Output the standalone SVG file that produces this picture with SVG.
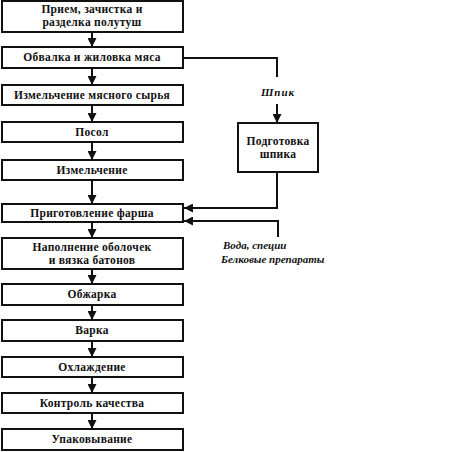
<svg xmlns="http://www.w3.org/2000/svg" width="474" height="452" viewBox="0 0 474 452">
<defs>
<marker id="ah" viewBox="0 0 10 10" refX="10" refY="5" markerWidth="4.5" markerHeight="4.5" orient="auto" markerUnits="strokeWidth">
<path d="M0,0 L10,5 L0,10 z" fill="#111"/>
</marker>
<style>
.box{fill:#fff;stroke:#111;stroke-width:2}
.t{font-family:"Liberation Serif","DejaVu Serif",serif;font-size:11.5px;letter-spacing:0.3px;font-weight:bold;fill:#111;text-anchor:middle}
.i{font-family:"Liberation Serif","DejaVu Serif",serif;font-size:11px;font-style:italic;font-weight:bold;fill:#111}
.c{fill:none;stroke:#111;stroke-width:2}
</style>
</defs>
<rect width="474" height="452" fill="#fff"/>
<g id="connectors">
<line class="c" x1="92" y1="32" x2="92" y2="47" marker-end="url(#ah)"/>
<line class="c" x1="92" y1="68" x2="92" y2="85" marker-end="url(#ah)"/>
<line class="c" x1="92" y1="105" x2="92" y2="122" marker-end="url(#ah)"/>
<line class="c" x1="92" y1="142" x2="92" y2="160" marker-end="url(#ah)"/>
<line class="c" x1="92" y1="180" x2="92" y2="204" marker-end="url(#ah)"/>
<line class="c" x1="92" y1="222" x2="92" y2="238" marker-end="url(#ah)"/>
<line class="c" x1="92" y1="269" x2="92" y2="284" marker-end="url(#ah)"/>
<line class="c" x1="92" y1="305" x2="92" y2="320" marker-end="url(#ah)"/>
<line class="c" x1="92" y1="341" x2="92" y2="357" marker-end="url(#ah)"/>
<line class="c" x1="92" y1="377" x2="92" y2="393" marker-end="url(#ah)"/>
<line class="c" x1="92" y1="413" x2="92" y2="429" marker-end="url(#ah)"/>
<polyline class="c" points="183,58 277,58 277,77"/>
<line class="c" x1="277" y1="104" x2="277" y2="123" marker-end="url(#ah)"/>
<polyline class="c" points="277,172 277,208 184,208" marker-end="url(#ah)"/>
<polyline class="c" points="278,237 278,221 184,221" marker-end="url(#ah)"/>
</g>
<g id="n1"><rect class="box" x="2" y="1" width="181" height="31"/><text class="t" x="92" y="13">Прием, зачистка и</text><text class="t" x="92" y="26">разделка полутуш</text></g>
<g id="n2"><rect class="box" x="2" y="47" width="181" height="21"/><text class="t" x="92" y="61">Обвалка и жиловка мяса</text></g>
<g id="n3"><rect class="box" x="2" y="85" width="181" height="20"/><text class="t" x="92" y="99">Измельчение мясного сырья</text></g>
<g id="n4"><rect class="box" x="2" y="122" width="181" height="20"/><text class="t" x="92" y="136">Посол</text></g>
<g id="n5"><rect class="box" x="2" y="160" width="181" height="20"/><text class="t" x="92" y="174">Измельчение</text></g>
<g id="n6"><rect class="box" x="2" y="204" width="181" height="18"/><text class="t" x="92" y="217">Приготовление фарша</text></g>
<g id="n7"><rect class="box" x="2" y="238" width="181" height="31"/><text class="t" x="92" y="251">Наполнение оболочек</text><text class="t" x="92" y="264">и вязка батонов</text></g>
<g id="n8"><rect class="box" x="2" y="284" width="181" height="21"/><text class="t" x="92" y="298">Обжарка</text></g>
<g id="n9"><rect class="box" x="2" y="320" width="181" height="21"/><text class="t" x="92" y="334">Варка</text></g>
<g id="n10"><rect class="box" x="2" y="357" width="181" height="20"/><text class="t" x="92" y="371">Охлаждение</text></g>
<g id="n11"><rect class="box" x="2" y="393" width="181" height="20"/><text class="t" x="92" y="407">Контроль качества</text></g>
<g id="n12"><rect class="box" x="2" y="429" width="181" height="21"/><text class="t" x="92" y="443">Упаковывание</text></g>
<g id="n13"><rect class="box" x="238" y="123" width="80" height="49"/><text class="t" x="278" y="145">Подготовка</text><text class="t" x="278" y="158">шпика</text></g>
<g id="labels">
<text class="i" x="278" y="96" text-anchor="middle" letter-spacing="1">Шпик</text>
<text class="i" x="223" y="249">Вода, специи</text>
<text class="i" x="221" y="263">Белковые препараты</text>
</g>
</svg>
